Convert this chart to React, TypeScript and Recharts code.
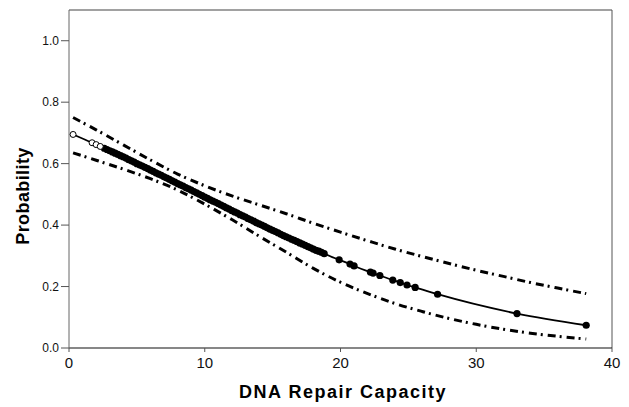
import React from 'react';
import { ComposedChart, Line, Scatter, XAxis, YAxis, ReferenceLine } from 'recharts';

// Tick values
const xTicks = [0, 10, 20, 30, 40];
const yTicks = [0, 0.2, 0.4, 0.6, 0.8, 1.0];

// Observed points (open circles)
const openX = [0.3, 1.7, 2.0, 2.3];
const openY = [0.695, 0.668, 0.662, 0.656];

// Observed points (filled circles)
const filledX = [
  2.6, 2.8, 3.0, 3.2, 3.4, 3.6, 3.8, 4.0, 4.2, 4.4, 4.6, 4.8, 5.0, 5.2, 5.4,
  5.6, 5.8, 6.0, 6.2, 6.4, 6.6, 6.8, 7.0, 7.2, 7.4, 7.6, 7.8, 8.0, 8.2, 8.4,
  8.6, 8.8, 9.0, 9.2, 9.4, 9.6, 9.8, 10.0, 10.2, 10.4, 10.6, 10.8, 11.0, 11.2,
  11.4, 11.6, 11.8, 12.0, 12.2, 12.4, 12.6, 12.8, 13.0, 13.2, 13.4, 13.6, 13.8,
  14.0, 14.2, 14.4, 14.6, 14.8, 15.0, 15.2, 15.4, 15.6, 15.8, 16.0, 16.2, 16.4,
  16.6, 16.8, 17.0, 17.2, 17.4, 17.6, 17.8, 18.0, 18.2, 18.4, 18.6, 18.8,
  19.9, 20.7, 21.0, 22.2, 22.4, 22.9, 23.85, 24.4, 24.9, 25.5, 27.15, 33.0, 38.1,
];
const filledY = [
  0.650, 0.646, 0.642, 0.638, 0.634, 0.630, 0.626, 0.622, 0.618, 0.613, 0.609,
  0.605, 0.600, 0.596, 0.592, 0.588, 0.584, 0.579, 0.575, 0.570, 0.566, 0.562,
  0.557, 0.553, 0.549, 0.544, 0.540, 0.535, 0.531, 0.527, 0.522, 0.518, 0.514,
  0.509, 0.505, 0.500, 0.496, 0.491, 0.487, 0.482, 0.478, 0.474, 0.470, 0.465,
  0.461, 0.456, 0.452, 0.447, 0.443, 0.439, 0.434, 0.430, 0.426, 0.421, 0.417,
  0.413, 0.408, 0.404, 0.400, 0.396, 0.391, 0.387, 0.383, 0.379, 0.375, 0.370,
  0.366, 0.362, 0.358, 0.354, 0.350, 0.346, 0.342, 0.338, 0.334, 0.330, 0.326,
  0.322, 0.318, 0.315, 0.311, 0.307,
  0.287, 0.273, 0.267, 0.247, 0.244, 0.236, 0.221, 0.213, 0.205, 0.197, 0.175,
  0.112, 0.074,
];

// Confidence band (dash-dot lines)
const bandX = [0.3, 2, 4, 6, 8, 10, 12, 14, 16, 18, 20, 22, 24, 26, 28, 30, 32, 34, 36, 38.1];
const upperY = [
  0.750, 0.710, 0.661, 0.612, 0.566, 0.528, 0.495, 0.466, 0.437, 0.406, 0.377,
  0.349, 0.322, 0.298, 0.275, 0.253, 0.233, 0.213, 0.195, 0.177,
];
const lowerY = [
  0.635, 0.611, 0.582, 0.551, 0.514, 0.468, 0.418, 0.364, 0.312, 0.259, 0.214,
  0.177, 0.145, 0.119, 0.096, 0.077, 0.061, 0.048, 0.038, 0.029,
];

const zip = (xs: number[], ys: number[]) => xs.map((x, i) => ({ x, y: ys[i] }));

const openData = zip(openX, openY);
const filledData = zip(filledX, filledY);
const mainData = [...openData, ...filledData];
const upperData = zip(bandX, upperY);
const lowerData = zip(bandX, lowerY);

const FONT = '"Liberation Sans", Arial, Helvetica, sans-serif';

const OpenDot = (p: any) => (
  <circle cx={p.cx} cy={p.cy} r={3} fill="#fff" stroke="#000" strokeWidth={1} />
);
const FilledDot = (p: any) => <circle cx={p.cx} cy={p.cy} r={3.6} fill="#000" />;

const YTitle = () => (
  <text
    x={29}
    y={196}
    transform="rotate(-90 29 196)"
    textAnchor="middle"
    fontFamily={FONT}
    fontWeight="bold"
    fontSize={18}
    letterSpacing={0.4}
    fill="#000"
  >
    Probability
  </text>
);

const XTitle = () => (
  <text
    x={343}
    y={398}
    textAnchor="middle"
    fontFamily={FONT}
    fontWeight="bold"
    fontSize={18}
    letterSpacing={1.5}
    fill="#000"
  >
    DNA Repair Capacity
  </text>
);

export default function App() {
  return (
    <div style={{ position: 'absolute', left: 0, top: 0, background: '#fff' }}>
      <ComposedChart
        width={629}
        height={407}
        margin={{ top: 10, right: 17, bottom: 0, left: 0 }}
      >
        <XAxis
          dataKey="x"
          type="number"
          domain={[0, 40]}
          ticks={xTicks}
          height={59}
          tickSize={4}
          tickMargin={5}
          axisLine={{ stroke: '#111', strokeWidth: 1.2 }}
          tickLine={{ stroke: '#555' }}
          tick={{ fontSize: 15, fontFamily: FONT, fill: '#111' }}
          label={<XTitle />}
        />
        <YAxis
          dataKey="y"
          type="number"
          domain={[0, 1.1]}
          ticks={yTicks}
          width={69}
          tickSize={8}
          tickMargin={2}
          allowDataOverflow
          tickFormatter={(v: number) => v.toFixed(1)}
          axisLine={{ stroke: '#666', strokeWidth: 1 }}
          tickLine={{ stroke: '#555' }}
          tick={{ fontSize: 12, fontFamily: FONT, fill: '#111' }}
          label={<YTitle />}
        />
        <ReferenceLine y={1.1} stroke="#444" strokeWidth={1.2} />
        <ReferenceLine x={40} stroke="#555" strokeWidth={1} />
        <Line
          data={upperData}
          dataKey="y"
          type="monotone"
          stroke="#000"
          strokeWidth={3}
          strokeDasharray="8 4 2 5"
          dot={false}
          activeDot={false}
          isAnimationActive={false}
        />
        <Line
          data={lowerData}
          dataKey="y"
          type="monotone"
          stroke="#000"
          strokeWidth={3}
          strokeDasharray="8 4 2 5"
          dot={false}
          activeDot={false}
          isAnimationActive={false}
        />
        <Line
          data={mainData}
          dataKey="y"
          type="monotone"
          stroke="#000"
          strokeWidth={1.8}
          dot={false}
          activeDot={false}
          isAnimationActive={false}
        />
        <Scatter data={filledData} dataKey="y" shape={<FilledDot />} isAnimationActive={false} />
        <Scatter data={openData} dataKey="y" shape={<OpenDot />} isAnimationActive={false} />
      </ComposedChart>
    </div>
  );
}
